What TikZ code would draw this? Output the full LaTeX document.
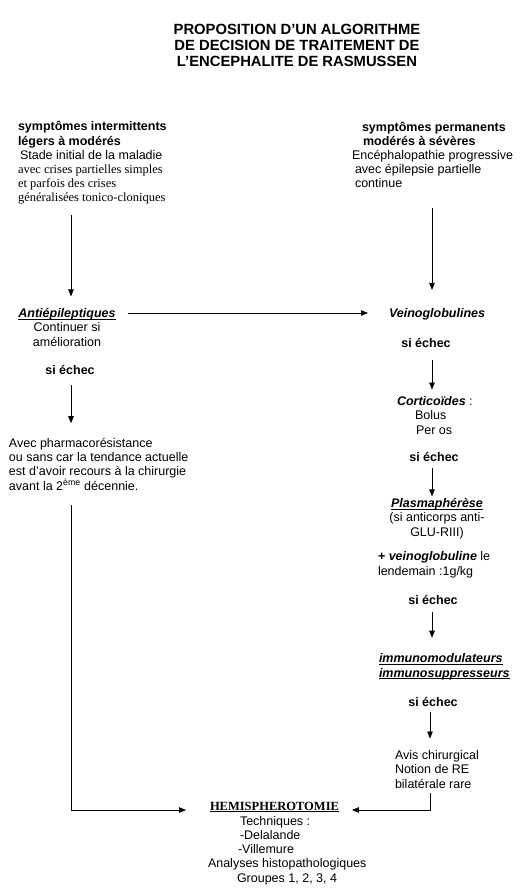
\documentclass[tikz,border=0pt]{standalone}
\usepackage{fontspec}
\setmainfont{Liberation Sans}
\newfontfamily\serifrm{Liberation Serif}
\usetikzlibrary{arrows.meta}
\newcommand\myul[1]{\setbox0\hbox{#1}\rlap{\rule[-1.6pt]{\wd0}{0.7pt}}\box0}
\begin{document}
\begin{tikzpicture}[x=1pt,y=-1pt,
  txt/.style={inner sep=0pt,outer sep=0pt,font=\fontsize{12.5}{14.2}\selectfont},
  ttl/.style={inner sep=0pt,outer sep=0pt,font=\fontsize{14.8}{16}\selectfont\bfseries},
  arr/.style={draw=black,line width=0.8pt,-{Triangle[length=7pt,width=5.5pt]}},
  ln/.style={draw=black,line width=0.8pt}]
\useasboundingbox[fill=white] (0,0) rectangle (526,890);
\coordinate (colL) at (71,0);
\coordinate (colR) at (432,0);
\coordinate (colR2) at (430,0);

% base anchors of multi-line nodes sit on their last line
\node[ttl,align=center,anchor=base] (title) at (297,67)
  {PROPOSITION D'UN ALGORITHME\\DE DECISION DE TRAITEMENT DE\\L'ENCEPHALITE DE RASMUSSEN};

\node[txt,align=left,anchor=base west] (sympL) at (18,202)
  {\textbf{symptômes intermittents}\\
   \textbf{légers à modérés}\\
   \hspace{2pt}Stade initial de la maladie\\
   {\serifrm avec crises partielles simples}\\
   {\serifrm et parfois des crises}\\
   {\serifrm généralisées tonico-cloniques}};

\node[txt,align=left,anchor=base west] (sympR) at (352,188)
  {\hspace{10pt}\textbf{symptômes permanents}\\
   \hspace{11pt}\textbf{modérés à sévères}\\
   Encéphalopathie progressive\\
   \hspace{3pt}avec épilepsie partielle\\
   \hspace{3pt}continue};

\node[txt,align=center,anchor=base] (anti) at (67,346)
  {\myul{\textbf{\textit{Antiépileptiques}}}\\Continuer si\\amélioration};
\node[txt,anchor=base] (echecL) at (70,374) {\textbf{si échec}};
\node[txt,align=left,anchor=base west] (pharma) at (9,490)
  {Avec pharmacorésistance\\
   ou sans car la tendance actuelle\\
   est d'avoir recours à la chirurgie\\
   avant la 2\textsuperscript{ème} décennie.};

\node[txt,anchor=base west] (veino) at (389,317) {\textbf{\textit{Veinoglobulines}}};
\node[txt,anchor=base] (echecR1) at (426,347) {\textbf{si échec}};
\node[txt,align=left,anchor=base west] (cortico) at (397,434)
  {\textbf{\textit{Corticoïdes}} :\\\hspace{18pt}Bolus\\\hspace{19pt}Per os};
\node[txt,anchor=base] (echecR2) at (434,461) {\textbf{si échec}};
\node[txt,align=center,anchor=base] (plasma) at (437,536)
  {\myul{\textbf{\textit{Plasmaphérèse}}}\\(si anticorps anti-\\GLU-RIII)};
\node[txt,align=left,anchor=base west] (veinob) at (378,575)
  {\textbf{+ \textit{veinoglobuline}} le\\lendemain :1g/kg};
\node[txt,anchor=base] (echecR3) at (433,604) {\textbf{si échec}};
\node[txt,align=left,anchor=base west] (immuno) at (379,677)
  {\myul{\textbf{\textit{immunomodulateurs}}}\\\myul{\textbf{\textit{immunosuppresseurs}}}};
\node[txt,anchor=base] (echecR4) at (433,706) {\textbf{si échec}};
\node[txt,align=left,anchor=base west] (avis) at (395,788)
  {Avis chirurgical\\Notion de RE\\bilatérale rare};

\node[txt,anchor=base west] (hemiT) at (210,810)
  {\myul{\serifrm\bfseries HEMISPHEROTOMIE}};
\node[txt,align=left,anchor=base west] (hemi) at (208,882)
  {\hspace{32pt}Techniques :\\
   \hspace{32pt}-Delalande\\
   \hspace{30pt}-Villemure\\
   Analyses histopathologiques\\
   \hspace{29pt}Groupes 1, 2, 3, 4};

% connectors
\draw[arr] ([yshift=-10pt]sympL.south -| colL) -- ([yshift=12pt]anti.north -| colL);
\draw[arr] ([yshift=-20pt]sympR.south -| colR) -- ([yshift=18pt]veino.north -| colR);
\draw[arr] ([xshift=12pt,yshift=4pt]anti.east |- veino.base) -- ([xshift=-21pt,yshift=4pt]veino.base west);
\draw[arr] ([yshift=-11pt]echecL.south -| colL) -- ([yshift=15pt]pharma.north -| colL);
\draw[arr] ([yshift=-13pt]echecR1.south -| colR) -- ([yshift=7pt]cortico.north -| colR);
\draw[arr] ([yshift=-7pt]echecR2.south -| colR) -- ([yshift=2pt]plasma.north -| colR);
\draw[arr] ([yshift=-8pt]echecR3.south -| colR) -- ([yshift=16pt]immuno.north -| colR);
\draw[arr] ([yshift=-6pt]echecR4.south -| colR2) -- ([yshift=12pt]avis.north -| colR2);
\draw[arr] ([yshift=-15pt]pharma.south -| colL) -- (hemiT.base west -| colL)
  -- ([xshift=-24pt]hemiT.base west);
\draw[arr] ([yshift=-5pt]avis.south -| colR2) -- (hemiT.base east -| colR2)
  -- ([xshift=13pt]hemiT.base east);
\end{tikzpicture}
\end{document}
